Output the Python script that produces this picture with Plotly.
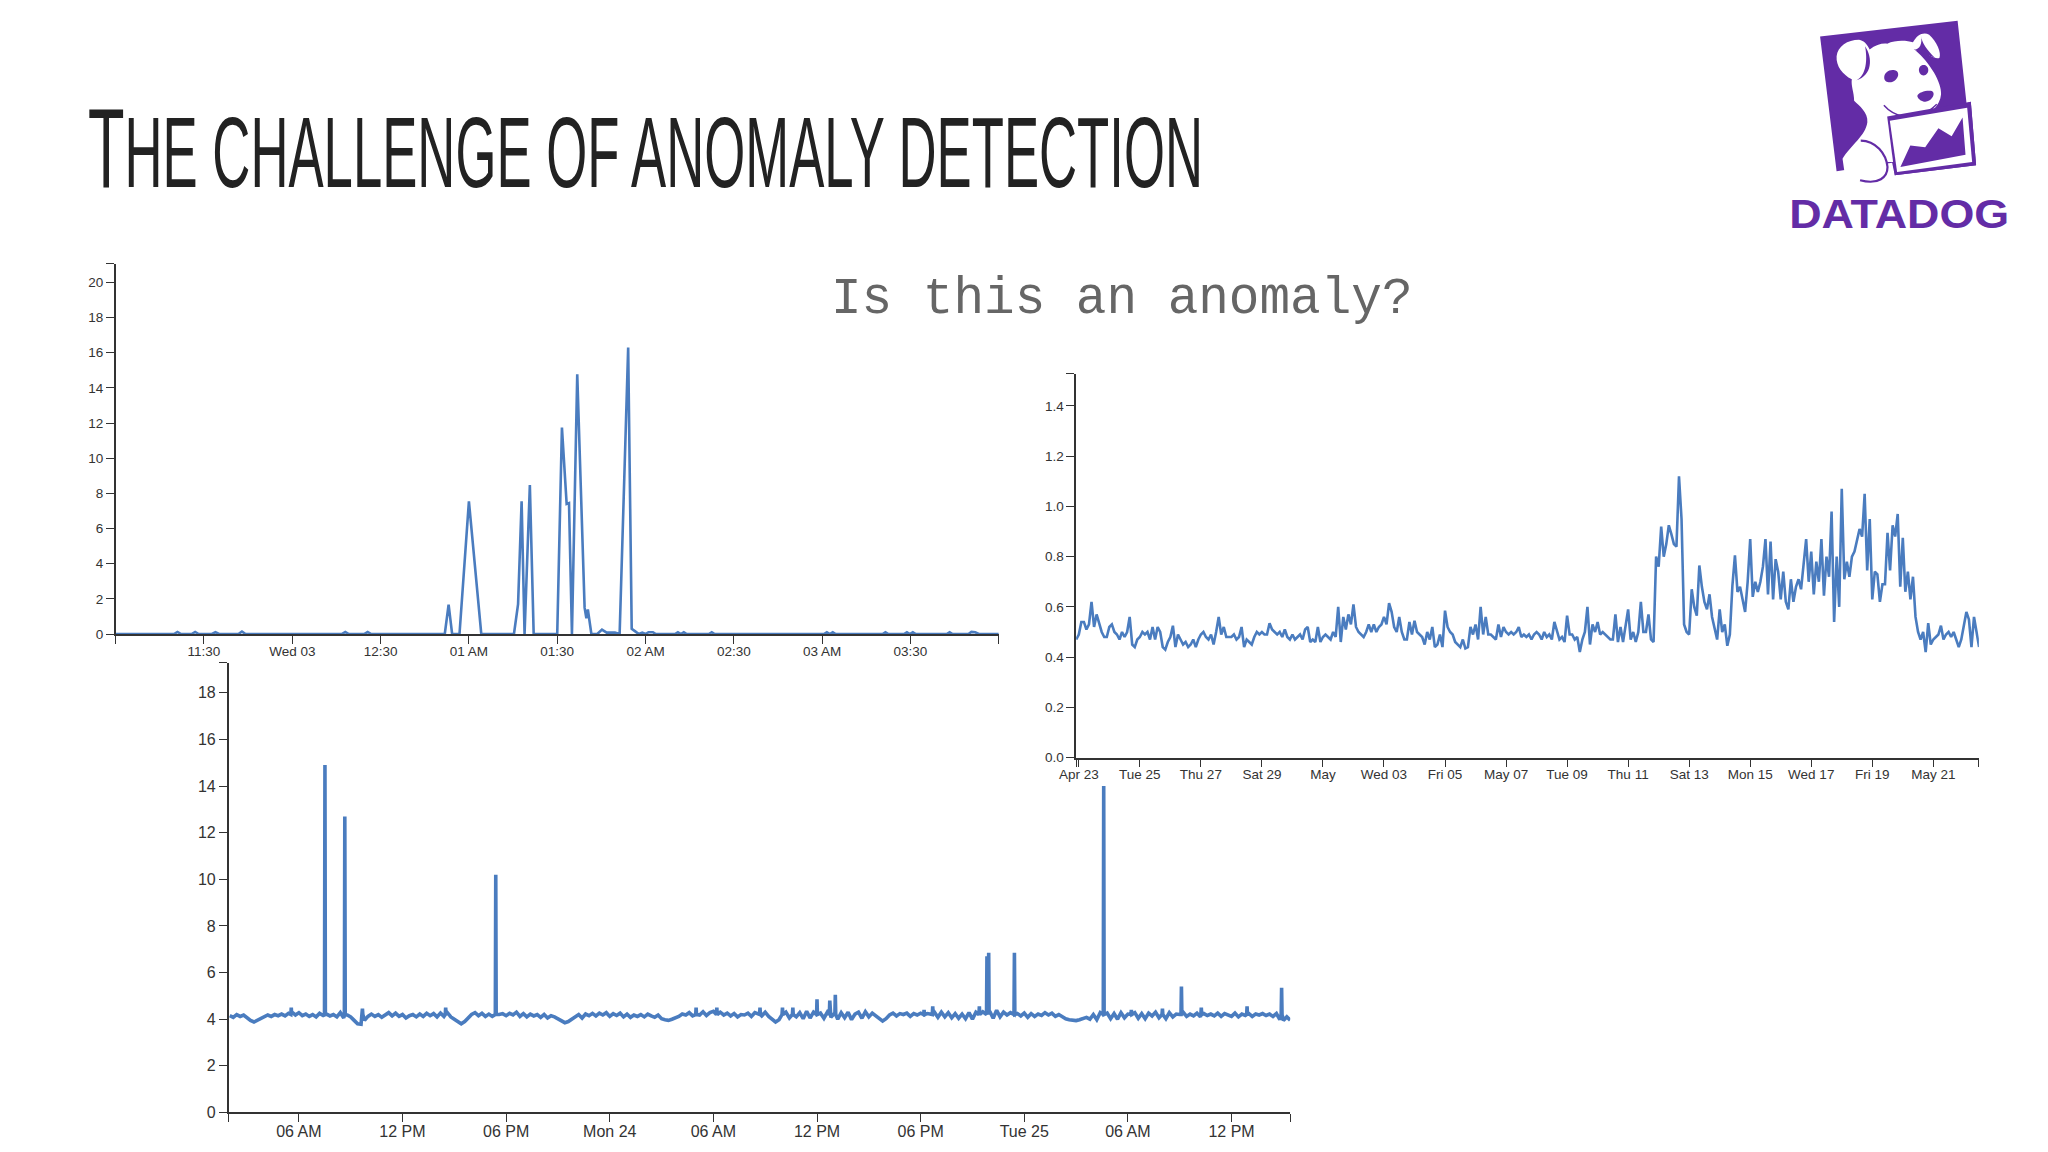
import re
import pandas as pd
import plotly.graph_objects as go

W, H = 2048, 1152
BLUE = "#4A7CBF"
AXIS = "#333333"

# ---------- top-left chart: minutes after 11 PM, Tue May 2 ----------
a_minutes = [0, 19.8, 21, 22.2, 25.8, 27, 28.2, 32.7, 33.9, 35.1, 41.7, 42.9, 44.1, 76.8, 78, 79.2, 84.4, 85.6, 86.8,
             111.8, 113.1, 114.3, 116.8, 120, 124.2, 135.3, 136.7, 137.9, 138.9, 140.7, 142, 150, 151.6, 153.2, 154,
             155, 156.8, 159.3, 159.9, 160.4, 161.6, 163.6, 165.2, 166.8, 169.6, 171.2, 174.1, 175.3, 176.5, 177.7,
             178.9, 180, 181, 182.5, 183.5, 190, 191, 192, 193, 194, 201.5, 202.5, 203.5, 240.6, 241.6, 242.6, 243.6,
             244.6, 260.5, 261.5, 262.5, 267.8, 268.8, 269.8, 270.8, 271.8, 282.3, 283.3, 284.3, 289.7, 290.7, 292,
             293.2, 300]
a_values = [0, 0, .12, 0, 0, .12, 0, 0, .1, 0, 0, .14, 0, 0, .12, 0, 0, .12, 0,
            0, 1.67, 0, 0, 7.55, 0, 0, 1.7, 7.55, 0, 8.47, 0, 0, 11.74, 7.4, 7.45,
            0, 14.77, 1.5, .9, 1.4, 0, 0, .25, .08, .08, 0, 16.3, .3, .15, 0,
            .08, 0, .1, .1, 0, 0, .1, 0, .1, 0, 0, .1, 0, 0, .1, 0, .1,
            0, 0, .1, 0, 0, .1, 0, .1, 0, 0, .1, 0, 0, .12, .1,
            0, 0]
a_tick_times = ["2017-05-02 23:30", "2017-05-03 00:00", "2017-05-03 00:30", "2017-05-03 01:00", "2017-05-03 01:30",
                "2017-05-03 02:00", "2017-05-03 02:30", "2017-05-03 03:00", "2017-05-03 03:30"]
a_tick_labels = ["11:30", "Wed 03", "12:30", "01 AM", "01:30", "02 AM", "02:30", "03 AM", "03:30"]

# ---------- right chart: one value every two hours from Apr 22, 22:00 ----------
b_values = [
    .47,
    .49, .54, .54, .51, .53, .62, .52, .57, .53, .50, .48, .48,
    .52, .53, .50, .49, .47, .50, .48, .50, .56, .45, .44, .47,
    .48, .50, .49, .50, .47, .52, .47, .52, .50, .44, .43, .46,
    .48, .525, .44, .49, .47, .45, .46, .44, .45, .47, .44, .47,
    .49, .50, .48, .47, .49, .45, .50, .56, .49, .52, .48, .48,
    .48, .49, .47, .48, .52, .44, .47, .46, .45, .48, .50, .49,
    .50, .49, .49, .535, .51, .50, .49, .50, .48, .51, .48, .47,
    .49, .47, .48, .49, .47, .51, .52, .46, .47, .46, .52, .46,
    .48, .49, .48, .47, .50, .48, .60, .46, .56, .51, .57, .53,
    .61, .52, .50, .49, .48, .50, .53, .50, .53, .50, .52, .53,
    .56, .53, .615, .58, .52, .50, .56, .50, .47, .47, .54, .49,
    .545, .50, .49, .48, .45, .50, .47, .52, .44, .45, .49, .44,
    .585, .52, .50, .49, .46, .45, .44, .47, .435, .44, .52, .49,
    .53, .47, .60, .49, .56, .49, .49, .48, .47, .53, .48, .52,
    .50, .49, .50, .49, .50, .52, .48, .49, .48, .49, .47, .49,
    .50, .49, .47, .50, .48, .49, .47, .54, .50, .47, .48, .46,
    .565, .49, .49, .47, .48, .42, .47, .50, .60, .45, .53, .50,
    .54, .49, .50, .49, .48, .47, .47, .57, .46, .52, .46, .53,
    .59, .47, .50, .46, .50, .62, .50, .50, .57, .47, .46, .80,
    .76, .92, .80, .85, .925, .89, .85, .84, 1.12, .95, .53, .50,
    .49, .67, .60, .565, .765, .68, .62, .59, .65, .56, .51, .47,
    .59, .50, .53, .445, .49, .685, .805, .66, .68, .63, .58, .70,
    .87, .64, .70, .66, .70, .76, .87, .65, .86, .63, .79, .74,
    .63, .74, .62, .59, .71, .62, .68, .71, .67, .77, .87, .70,
    .82, .65, .78, .70, .87, .645, .80, .72, .98, .54, .80, .60,
    1.07, .71, .78, .72, .80, .82, .87, .91, .88, 1.05, .745, .95,
    .63, .74, .73, .62, .69, .69, .895, .745, .925, .88, .97, .68,
    .875, .66, .74, .63, .72, .56, .50, .47, .50, .42, .535, .45,
    .47, .48, .49, .525, .47, .49, .50, .48, .50, .47, .44, .47,
    .52, .58, .55, .44, .56, .50, .44,
]
b_tick_times = ["2017-04-23", "2017-04-25", "2017-04-27", "2017-04-29", "2017-05-01", "2017-05-03", "2017-05-05",
                "2017-05-07", "2017-05-09", "2017-05-11", "2017-05-13", "2017-05-15", "2017-05-17", "2017-05-19",
                "2017-05-21"]
b_tick_labels = ["Apr 23", "Tue 25", "Thu 27", "Sat 29", "May", "Wed 03", "Fri 05", "May 07", "Tue 09", "Thu 11",
                 "Sat 13", "Mon 15", "Wed 17", "Fri 19", "May 21"]

# ---------- bottom chart: baseline every 12 minutes from Sun Apr 23, 02:00, plus isolated spikes ----------
c_baseline = [
    4.15, 4.08, 4.20, 4.12, 4.18,  4.05, 3.95, 3.88, 3.95, 4.02,  4.10, 4.18, 4.12, 4.20, 4.15,
    4.22, 4.14, 4.25, 4.30, 4.18,  4.28, 4.15, 4.22, 4.12, 4.20,  4.10, 4.25, 4.16, 4.22, 4.14,
    4.20, 4.10, 4.28, 4.05, 4.18,  4.10, 3.95, 3.80, 3.78, 3.95,  4.12, 4.22, 4.12, 4.20, 4.08,
    4.18, 4.28, 4.14, 4.26, 4.12,  4.20, 4.05, 4.15, 4.20, 4.10,  4.22, 4.12, 4.25, 4.15, 4.24,
    4.10, 4.26, 4.12, 4.28, 4.10,  4.00, 3.88, 3.80, 3.90, 4.05,  4.20, 4.28, 4.15, 4.25, 4.12,
    4.22, 4.12, 4.24, 4.20, 4.24,  4.15, 4.25, 4.18, 4.30, 4.12,  4.24, 4.10, 4.22, 4.14, 4.20,
    4.08, 4.20, 4.05, 4.15, 4.10,  4.02, 3.90, 3.85, 3.90, 4.00,  4.12, 4.20, 4.05, 4.22, 4.15,
    4.25, 4.14, 4.26, 4.18, 4.28,  4.12, 4.24, 4.16, 4.26, 4.10,  4.22, 4.08, 4.18, 4.12, 4.20,
    4.10, 4.22, 4.14, 4.08, 4.18,  4.02, 3.98, 3.95, 4.00, 4.05,  4.12, 4.22, 4.18, 4.28, 4.14,
    4.30, 4.18, 4.32, 4.16, 4.28,  4.34, 4.12, 4.30, 4.18, 4.26,  4.14, 4.24, 4.10, 4.20, 4.18,
    4.26, 4.12, 4.28, 4.22, 4.14,  4.30, 4.12, 4.00, 3.88, 3.98,  4.12, 4.30, 4.05, 4.32, 4.10,
    4.28, 4.02, 4.34, 4.05, 4.30,  4.00, 4.26, 4.04, 4.30, 4.08,  4.24, 4.00, 4.28, 4.06, 4.30,
    3.98, 4.22, 4.30, 4.04, 4.32,  4.10, 4.26, 4.14, 4.02, 3.92,  4.02, 4.18, 4.26, 4.14, 4.24,
    4.20, 4.26, 4.12, 4.24, 4.18,  4.26, 4.10, 4.24, 4.20, 4.30,  4.08, 4.30, 4.10, 4.28, 4.06,
    4.24, 4.04, 4.22, 4.02, 4.28,  4.00, 4.30, 4.02, 4.32, 4.00,  4.34, 4.04, 4.38, 4.10, 4.30,
    4.18, 4.28, 4.12, 4.24, 4.14,  4.26, 4.08, 4.24, 4.12, 4.22,  4.16, 4.28, 4.18, 4.26, 4.12,
    4.20, 4.10, 4.02, 3.98, 3.95,  3.94, 3.98, 4.02, 4.08, 4.00,  4.20, 3.98, 4.28, 4.02, 4.26,
    4.02, 4.24, 4.00, 4.28, 4.06,  4.22, 4.14, 4.28, 4.04, 4.24,  4.02, 4.26, 4.14, 4.30, 4.06,
    4.24, 4.02, 4.28, 4.10, 4.22,  4.20, 4.30, 4.12, 4.22, 4.14,  4.26, 4.10, 4.24, 4.16, 4.22,
    4.14, 4.26, 4.12, 4.24, 4.18,  4.12, 4.26, 4.10, 4.22, 4.16,  4.24, 4.12, 4.22, 4.18, 4.24,
    4.16, 4.22, 4.12, 4.24, 3.98,  3.95, 4.10, 3.96,
]
c_spike_hours = [5.56, 7.51, 8.66, 9.68, 14.5, 17.4, 29.0, 30.2, 32.7, 34.0, 34.6, 36.0, 36.74, 37.06, 42.2, 42.7,
                 45.4, 45.84, 45.94, 47.43, 52.6, 54.2, 56.0, 57.1, 58.25, 60.9, 62.9]
c_spike_values = [4.5, 14.9, 12.7, 4.45, 4.5, 10.2, 4.5, 4.5, 4.5, 4.5, 4.5, 4.85, 4.8, 5.05, 4.4, 4.55,
                  4.55, 6.7, 6.85, 6.85, 14.0, 4.4, 4.45, 5.4, 4.5, 4.55, 5.35]
c_tick_times = ["2017-04-23 06:00", "2017-04-23 12:00", "2017-04-23 18:00", "2017-04-24 00:00", "2017-04-24 06:00",
                "2017-04-24 12:00", "2017-04-24 18:00", "2017-04-25 00:00", "2017-04-25 06:00", "2017-04-25 12:00"]
c_tick_labels = ["06 AM", "12 PM", "06 PM", "Mon 24", "06 AM", "12 PM", "06 PM", "Tue 25", "06 AM", "12 PM"]

title_rest = "HE CHALLENGE OF ANOMALY DETECTION"
subtitle = "Is this an anomaly?"
brand = "DATADOG"

# ---------- derived series ----------
t_a = pd.Timestamp("2017-05-02 23:00") + pd.to_timedelta(a_minutes, unit="m")
t_b = pd.date_range("2017-04-22 22:00", periods=len(b_values), freq="2h")
c_h = [2 + 0.2 * i for i in range(len(c_baseline))]
pairs = list(zip(c_h, c_baseline))
for h, v in zip(c_spike_hours, c_spike_values):
    pairs = [p for p in pairs if abs(p[0] - h) > 0.04]
    pairs += [(h - 0.025, 4.2), (h, v), (h + 0.025, 4.2)]
pairs.sort()
t_c = pd.Timestamp("2017-04-23") + pd.to_timedelta([p[0] for p in pairs], unit="h")
v_c = [p[1] for p in pairs]


def dom_x(a, b):
    return [a / W, b / W]


def dom_y(top, bottom):
    return [1 - bottom / H, 1 - top / H]


fig = go.Figure()
fig.add_trace(go.Scatter(x=t_a, y=a_values, mode="lines", line=dict(color=BLUE, width=2.6), xaxis="x", yaxis="y",
                         cliponaxis=False, hoverinfo="skip"))
fig.add_trace(go.Scatter(x=t_b, y=b_values, mode="lines", line=dict(color=BLUE, width=2.6), xaxis="x2", yaxis="y2",
                         cliponaxis=False, hoverinfo="skip"))
fig.add_trace(go.Scatter(x=t_c, y=v_c, mode="lines", line=dict(color=BLUE, width=3.6), xaxis="x3", yaxis="y3",
                         cliponaxis=False, hoverinfo="skip"))


def xaxis(domain, rng, times, labels, size, anchor):
    return dict(domain=domain, range=rng, type="date", anchor=anchor, showgrid=False, zeroline=False, showline=True,
                linecolor=AXIS, linewidth=1.5, ticks="outside", ticklen=8, tickwidth=1.3, tickcolor=AXIS,
                tickmode="array", tickvals=[rng[0]] + times + [rng[1]], ticktext=[""] + labels + [""],
                tickangle=0, ticklabelstandoff=-4, tickfont=dict(family="Liberation Sans", size=size, color=AXIS))


def yaxis(domain, rng, vals, labels, size, anchor):
    return dict(domain=domain, range=rng, anchor=anchor, showgrid=False, zeroline=False, showline=True,
                linecolor=AXIS, linewidth=1.5, ticks="outside", ticklen=8, tickwidth=1.3, tickcolor=AXIS,
                tickmode="array", tickvals=vals + [rng[1]], ticktext=labels + [""],
                tickfont=dict(family="Liberation Sans", size=size, color=AXIS))


a_y = list(range(0, 21, 2))
b_y = [0, .2, .4, .6, .8, 1.0, 1.2, 1.4]
c_y = list(range(0, 19, 2))

# ---------- logo (decoration, coordinates in the logo's own frame) ----------


def logo_xy(x, y):
    return (1777.5 + x / 3) / W, 1 - (y / 3) / H


def logo_path(d):
    def rep(m):
        px, py = logo_xy(float(m.group(1)), float(m.group(2)))
        return f"{px:.5f},{py:.5f}"
    return re.sub(r"(-?[\d.]+),(-?[\d.]+)", rep, d)


PURPLE = "#632CA6"
shapes = []


def add(d, fill=PURPLE, stroke=None, width=0):
    shapes.append(dict(type="path", xref="paper", yref="paper", path=logo_path(d), fillcolor=fill,
                       line=dict(color=stroke or "rgba(0,0,0,0)", width=width), layer="above"))


add("M122,110 L538,63 L565,312 L578,308 L594,500 L348,530 L340,492 L172,518 Z")
add("M172,170 C175,140 205,120 240,120 C255,122 265,135 272,150 C290,135 310,130 325,132 C350,120 385,122 403,128 "
    "C415,105 435,95 452,105 C475,125 490,160 483,175 C470,180 450,165 430,155 L410,152 C455,190 490,250 488,285 "
    "C485,320 455,345 430,352 L332,355 L345,490 L322,490 C325,510 320,530 300,545 C270,560 245,545 240,515 L195,515 "
    "L190,480 C215,440 260,410 265,370 C268,340 240,320 225,305 C225,280 215,260 218,240 C190,225 170,200 172,170 Z",
    fill="#FFFFFF")
add("M258,140 C282,175 280,228 232,243 C262,228 266,180 258,140 Z")
add("M427,107 C430,130 445,150 470,175 C450,168 418,156 405,150 C425,150 432,130 427,107 Z")
add("M316,235 C316,220 330,210 345,212 C362,214 362,232 350,242 C338,254 316,250 316,235 Z")
add("M421,212 C421,200 432,194 442,198 C452,204 452,220 442,226 C432,232 421,224 421,212 Z")
add("M416,290 C420,278 445,272 460,275 C470,280 466,295 452,304 C440,312 420,305 416,290 Z")
add("M315,318 C345,352 400,365 430,345 C450,340 465,325 475,315", fill="rgba(0,0,0,0)", stroke=PURPLE, width=1.5)
add("M245,425 C290,425 322,465 326,505 C326,535 300,560 243,545", fill="rgba(0,0,0,0)", stroke=PURPLE, width=2.2)
add("M325,352 L578,308 L594,500 L348,530 Z")
add("M333,365 L567,326 L582,490 L355,520 Z", fill="#FFFFFF")
add("M365,505 L395,440 L440,445 L480,388 L520,412 L553,355 L562,468 Z")

annotations = [
    dict(text=f"<span style='font-size:68px'>T</span>{title_rest}", xref="paper", yref="paper",
         x=70 / W, y=1 - 205 / H, xanchor="left", yanchor="bottom", showarrow=False, align="left",
         font=dict(family="Liberation Sans Narrow, Liberation Sans", size=60, color="#222222")),
    dict(text=subtitle, xref="paper", yref="paper", x=819 / W, y=1 - 333 / H, xanchor="left", yanchor="bottom",
         showarrow=False, font=dict(family="Liberation Mono", size=51, color="#666666")),
    dict(text=brand, xref="paper", yref="paper", x=1797 / W, y=1 - 240 / H, xanchor="left", yanchor="bottom",
         showarrow=False, font=dict(family="Liberation Sans", size=40, color=PURPLE, weight="bold")),
]

fig.update_layout(
    width=W, height=H, margin=dict(l=0, r=0, t=0, b=0), autosize=False,
    paper_bgcolor="white", plot_bgcolor="rgba(0,0,0,0)", showlegend=False,
    xaxis=xaxis(dom_x(99.5, 990), ["2017-05-02 23:00", "2017-05-03 04:00"], a_tick_times, a_tick_labels, 13.5, "y"),
    yaxis=yaxis(dom_y(266, 639), [0, 21.05], a_y, [str(v) for v in a_y], 13.5, "x"),
    xaxis2=xaxis(dom_x(1068, 1978.3), ["2017-04-22 21:54", "2017-05-22 11:50"], b_tick_times, b_tick_labels, 13.5, "y2"),
    yaxis2=yaxis(dom_y(376.8, 763.5), [0, 1.528], b_y, [f"{v:.1f}" for v in b_y], 13.5, "x2"),
    xaxis3=xaxis(dom_x(213.4, 1283.9), ["2017-04-23 01:56", "2017-04-25 15:24"], c_tick_times, c_tick_labels, 16, "y3"),
    yaxis3=yaxis(dom_y(668, 1121.2), [0, 19.29], c_y, [str(v) for v in c_y], 16, "x3"),
    shapes=shapes, annotations=annotations,
)

post = """
document.body.style.margin='0';
document.querySelectorAll('text.annotation-text').forEach(function(t){
  var s=t.textContent;
  if(s.indexOf('CHALLENGE')>=0){
    t.setAttribute('textLength','1115');t.setAttribute('lengthAdjust','spacingAndGlyphs');
    var x=+t.getAttribute('x')||0,y=+t.getAttribute('y')||0;
    t.setAttribute('transform','translate('+x+','+y+') scale(1,1.667) translate('+(-x)+','+(-y)+')');
  }
  if(s==='DATADOG'){t.setAttribute('textLength','220');t.setAttribute('lengthAdjust','spacingAndGlyphs');}
});
"""
fig.write_html("out.html", config=dict(displayModeBar=False), post_script=post)
